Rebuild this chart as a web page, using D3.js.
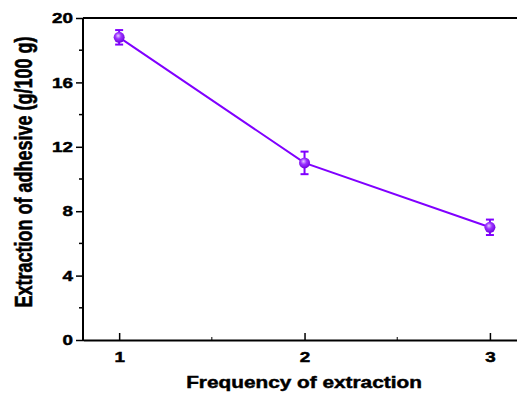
<!DOCTYPE html>
<html>
<head>
<meta charset="utf-8">
<script src="https://cdn.jsdelivr.net/npm/d3@7"></script>
<style>
  body { margin: 0; background: #fff; }
  svg { display: block; font-family: Arial, "Liberation Sans", sans-serif; }
  svg text { stroke: #000; stroke-width: 0.45px; }
</style>
</head>
<body>
<div id="chart"></div>
<script>
// data
const frequency = [1, 2, 3];
const extraction = [18.8, 11.0, 7.0];
const errors = [0.45, 0.7, 0.48];
const yTicks = [0, 4, 8, 12, 16, 20];
const yMinor = [2, 6, 10, 14, 18];
const xTicks = [1, 2, 3];
const xMinor = [1.5, 2.5];

const width = 517, height = 394;
const margin = { top: 18, right: -10, bottom: 54, left: 83 };
const color = '#8000ff';
const stretch = 1.3; // the original text is drawn wider than normal
const font = 'Arial, "Liberation Sans", sans-serif';

const svg = d3.select('#chart')
  .append('svg')
    .attr('width', width)
    .attr('height', height);

const defs = svg.append('defs');
const grad = defs.append('radialGradient')
  .attr('id', 'ball')
  .attr('cx', '45%').attr('cy', '40%').attr('r', '60%')
  .attr('fx', '40%').attr('fy', '35%');
grad.append('stop').attr('offset', '0%').attr('stop-color', '#e6ccff');
grad.append('stop').attr('offset', '45%').attr('stop-color', '#9a33ff');
grad.append('stop').attr('offset', '100%').attr('stop-color', '#7000e0');

const x = d3.scaleLinear()
  .domain([0.805, 3.2])
  .range([margin.left, width - margin.right]);

const y = d3.scaleLinear()
  .domain([0, 20])
  .range([height - margin.bottom, margin.top]);

// top frame line
svg.append('line')
  .attr('x1', x.range()[0]).attr('x2', x.range()[1])
  .attr('y1', y(20)).attr('y2', y(20))
  .attr('stroke', '#000').attr('stroke-width', 2);

// y axis
const yAxis = svg.append('g')
  .attr('transform', `translate(${margin.left},0)`)
  .call(d3.axisLeft(y).tickValues(yTicks).tickSize(7).tickPadding(3).tickFormat(d3.format('d')));
yAxis.select('.domain').attr('stroke-width', 2).attr('d', `M0,${y(20)}V${y(0) + 1}`);
yAxis.selectAll('.tick line').attr('stroke-width', 1.5);
yAxis.selectAll('.tick text')
  .attr('font-size', 14.5).attr('font-weight', 'bold').attr('fill', '#000')
  .attr('font-family', font)
  .attr('x', -10 / stretch)
  .attr('transform', `scale(${stretch},1)`);
yAxis.selectAll('.minor')
  .data(yMinor)
  .enter().append('line')
    .attr('x1', -4).attr('x2', 0)
    .attr('y1', d => y(d)).attr('y2', d => y(d))
    .attr('stroke', '#000').attr('stroke-width', 1.5);

// x axis
const xAxis = svg.append('g')
  .attr('transform', `translate(0,${y(0)})`)
  .call(d3.axisBottom(x).tickValues(xTicks).tickSizeInner(-7).tickSizeOuter(0).tickPadding(12).tickFormat(d3.format('d')));
xAxis.select('.domain').attr('stroke-width', 2);
xAxis.selectAll('.tick line').attr('stroke-width', 1.5);
xAxis.selectAll('.tick text')
  .attr('font-size', 14.5).attr('font-weight', 'bold').attr('fill', '#000')
  .attr('font-family', font)
  .attr('transform', `scale(${stretch},1)`);
xAxis.selectAll('.minor')
  .data(xMinor)
  .enter().append('line')
    .attr('x1', d => x(d)).attr('x2', d => x(d))
    .attr('y1', 0).attr('y2', -3)
    .attr('stroke', '#000').attr('stroke-width', 1);

// titles
svg.append('text')
  .attr('transform', `translate(304,388) scale(${stretch},1)`)
  .attr('text-anchor', 'middle')
  .attr('font-size', 16).attr('font-weight', 'bold')
  .text('Frequency of extraction');

svg.append('text')
  .attr('transform', `translate(24,172) rotate(-90) scale(1,${stretch})`)
  .attr('text-anchor', 'middle')
  .attr('dy', '0.35em')
  .attr('font-size', 18).attr('font-weight', 'bold')
  .text('Extraction of adhesive (g/100 g)');

// series
const pts = frequency.map((f, i) => ({ f, v: extraction[i], e: errors[i] }));

svg.append('path')
  .datum(pts)
  .attr('fill', 'none')
  .attr('stroke', color)
  .attr('stroke-width', 2)
  .attr('d', d3.line().x(d => x(d.f)).y(d => y(d.v)));

const eb = svg.append('g').attr('stroke', color).attr('stroke-width', 2);
eb.selectAll('.v').data(pts).enter().append('line')
  .attr('x1', d => x(d.f)).attr('x2', d => x(d.f))
  .attr('y1', d => y(d.v - d.e)).attr('y2', d => y(d.v + d.e));
eb.selectAll('.t').data(pts).enter().append('line')
  .attr('x1', d => x(d.f) - 4).attr('x2', d => x(d.f) + 4)
  .attr('y1', d => y(d.v + d.e)).attr('y2', d => y(d.v + d.e));
eb.selectAll('.b').data(pts).enter().append('line')
  .attr('x1', d => x(d.f) - 4).attr('x2', d => x(d.f) + 4)
  .attr('y1', d => y(d.v - d.e)).attr('y2', d => y(d.v - d.e));

svg.selectAll('.dot')
  .data(pts)
  .enter().append('circle')
    .attr('cx', d => x(d.f))
    .attr('cy', d => y(d.v))
    .attr('r', 5.5)
    .attr('fill', 'url(#ball)');
</script>
</body>
</html>
